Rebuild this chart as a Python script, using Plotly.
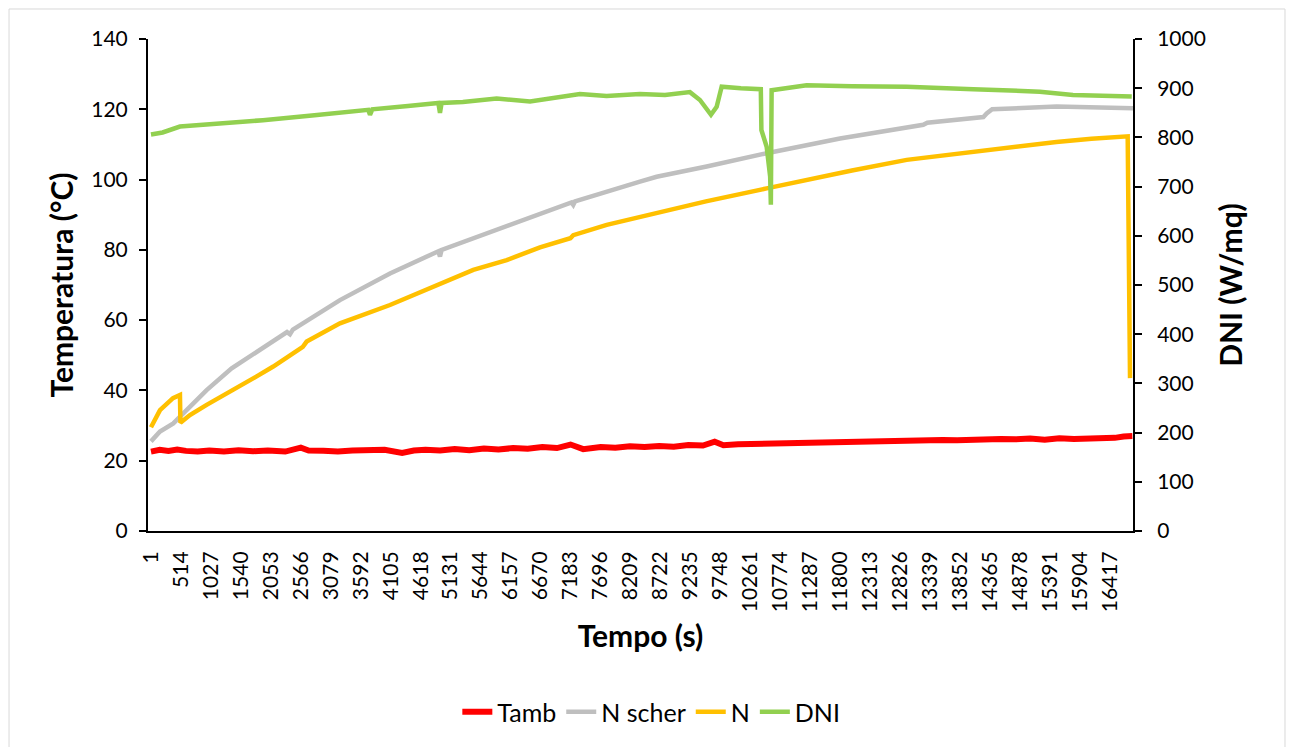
import plotly.graph_objects as go

# ---- data ----
tick_vals = [1, 514, 1027, 1540, 2053, 2566, 3079, 3592, 4105, 4618, 5131, 5644,
             6157, 6670, 7183, 7696, 8209, 8722, 9235, 9748, 10261, 10774, 11287,
             11800, 12313, 12826, 13339, 13852, 14365, 14878, 15391, 15904, 16417]
tick_text = [str(v) for v in tick_vals]

t_tamb = [1, 150, 300, 450, 600, 800, 1000, 1250, 1500, 1750, 2000, 2300, 2566, 2700,
          2950, 3200, 3450, 3700, 4000, 4300, 4500, 4700, 4950, 5200, 5450, 5700, 5950,
          6200, 6450, 6700, 6950, 7183, 7400, 7700, 7950, 8200, 8450, 8700, 8950, 9200,
          9450, 9650, 9800, 10050, 10300, 10550, 10800, 11050, 11300, 11550, 11800,
          12050, 12300, 12550, 12800, 13050, 13300, 13550, 13800, 14050, 14300, 14550,
          14800, 15050, 15300, 15550, 15800, 16050, 16200, 16350, 16500, 16650, 16800]
tamb = [22.6, 23.1, 22.8, 23.2, 22.8, 22.6, 22.9, 22.6, 23.0, 22.7, 22.9, 22.6, 23.7, 22.9,
        22.8, 22.6, 22.9, 22.8, 23.1, 22.2, 22.9, 23.1, 22.9, 23.3, 23.0, 23.5, 23.2,
        23.6, 23.4, 23.9, 23.6, 24.6, 23.3, 23.9, 23.7, 24.1, 23.9, 24.2, 24.0, 24.5,
        24.3, 25.4, 24.4, 24.7, 24.8, 24.6, 25.0, 25.2, 25.3, 25.1, 25.4,
        25.6, 25.5, 25.8, 25.6, 25.8, 25.7, 25.9, 25.8, 26.0, 25.9, 26.2,
        26.1, 26.3, 26.0, 26.4, 26.2, 26.4, 26.1, 26.6, 26.5, 26.9, 27.0]

t_nscher = [1, 155, 383, 554, 954, 1382, 1810, 2330, 2380, 2430, 3236, 4092, 4920, 4948,
            4976, 6090, 7200, 7230, 7260, 8371, 8657, 9513, 10540, 11795, 13150, 13221,
            13290, 14250, 14306, 14400, 15504, 16810]
nscher = [25.5, 28.3, 30.6, 33.5, 40.1, 46.3, 51.0, 56.6, 56.0, 57.3, 65.7, 73.3, 79.6, 78.1,
          80.0, 86.6, 93.5, 92.8, 93.8, 99.4, 100.8, 103.7, 107.5, 111.7, 115.1, 115.6,
          116.2, 117.8, 118.8, 120.0, 120.8, 120.3]

t_n = [1, 155, 378, 497, 505, 668, 954, 1524, 1810, 2094, 2600, 2666, 3236, 4092, 4948,
       5518, 6090, 6660, 7180, 7230, 7802, 8371, 8657, 9500, 10540, 11200, 12000, 12937,
       13800, 14649, 15500, 16100, 16639, 16720, 16760]
n = [29.5, 34.4, 37.8, 38.7, 30.8, 33.0, 35.9, 41.1, 44.0, 46.8, 52.4, 53.9, 59.1, 64.3, 70.5,
     74.3, 77.1, 80.7, 83.3, 84.2, 87.1, 89.4, 90.4, 93.8, 97.5, 99.9, 102.6, 105.6,
     107.4, 109.2, 110.7, 111.6, 112.4, 112.3, 43.5]

t_dni = [1, 200, 497, 1000, 1918, 2800, 3630, 3720, 3750, 3790, 4400, 4920, 4948, 4976,
         5340, 5918, 6489, 6950, 7344, 7800, 8371, 8800, 9227, 9398, 9500, 9587, 9684,
         9730, 9770, 10100, 10426, 10440, 10450, 10540, 10600, 10612, 10625, 11225,
         12000, 12937, 14077, 15218, 15783, 16300, 16790]
dni = [806, 810, 822, 826, 835, 845, 856, 856, 846, 857, 864, 870, 850, 870,
       872, 879, 873, 880, 888, 884, 888, 886, 892, 876, 860, 846, 862,
       890, 903, 900, 898, 898, 815, 781, 720, 663, 896, 906,
       904, 903, 898, 893, 886, 884, 883]

FONT = "Lato"

fig = go.Figure()
fig.add_trace(go.Scatter(x=t_tamb, y=tamb, name="Tamb", mode="lines",
                         line=dict(color="#FF0000", width=6)))
fig.add_trace(go.Scatter(x=t_nscher, y=nscher, name="N scher", mode="lines",
                         line=dict(color="#BFBFBF", width=4.5)))
fig.add_trace(go.Scatter(x=t_n, y=n, name="N", mode="lines",
                         line=dict(color="#FFC000", width=4.5)))
fig.add_trace(go.Scatter(x=t_dni, y=dni, name="DNI", mode="lines", yaxis="y2",
                         line=dict(color="#92D050", width=4.5)))

axis_common = dict(showgrid=False, zeroline=False, showline=True, linecolor="black",
                   linewidth=2, tickfont=dict(family=FONT, size=21, color="black"))

fig.update_layout(
    width=1292, height=747,
    margin=dict(l=148, r=159, t=39, b=216),
    paper_bgcolor="white", plot_bgcolor="white",
    font=dict(family=FONT, color="black"),
    xaxis=dict(**axis_common, range=[-50, 16811], tickmode="array",
               tickvals=tick_vals, ticktext=tick_text, tickangle=-90, ticks="",
               ticklabelstandoff=10,
               title=dict(text="<b>Tempo (s)</b>", font=dict(family=FONT, size=30),
                          standoff=15)),
    yaxis=dict(**axis_common, range=[0, 140], dtick=20, ticks="outside", ticklen=7,
               tickwidth=2, tickcolor="black", ticklabelstandoff=7,
               title=dict(text="<b>Temperatura (°C)</b>", font=dict(family=FONT, size=30),
                          standoff=9)),
    yaxis2=dict(**axis_common, range=[0, 1000], dtick=100, overlaying="y", side="right",
                ticks="outside", ticklen=7, tickwidth=2, tickcolor="black",
                ticklabelstandoff=11,
                title=dict(text="<b>DNI (W/mq)</b>", font=dict(family=FONT, size=30),
                           standoff=16)),
    legend=dict(orientation="h", x=0.511, xanchor="center", y=-0.368, yanchor="middle",
                font=dict(family=FONT, size=25, color="black"), bgcolor="rgba(0,0,0,0)"),
    showlegend=True,
    shapes=[dict(type="rect", xref="paper", yref="paper", x0=-0.1411, x1=1.1543,
                 y0=-0.47, y1=1.061, line=dict(color="#D9D9D9", width=1),
                 fillcolor="rgba(0,0,0,0)", layer="below")],
)

fig.write_html("out.html")
